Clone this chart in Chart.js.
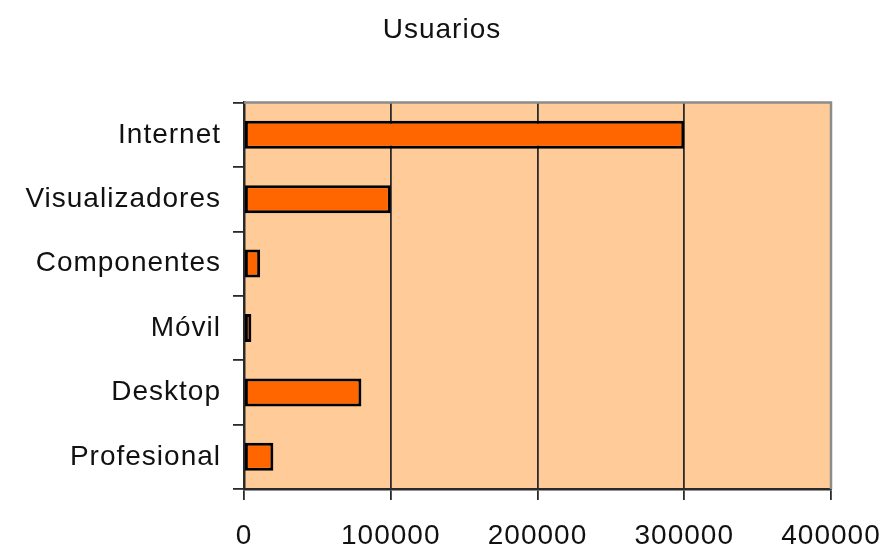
<!DOCTYPE html>
<html>
<head>
<meta charset="utf-8">
<script src="https://cdn.jsdelivr.net/npm/chart.js@4"></script>
<style>
  body { margin: 0; background: #fff; }
</style>
</head>
<body>
<canvas id="usuariosChart" width="884" height="548"></canvas>
<script>
// Gráfico de barras horizontales — usuarios por área

const categorias = ["Internet", "Visualizadores", "Componentes", "Móvil", "Desktop", "Profesional"];
const usuarios = [300000, 100000, 11000, 5000, 80000, 20000];
const ticksX = [0, 100000, 200000, 300000, 400000];

const fuente = "'Liberation Sans', Arial, sans-serif";

// fondo del área de trazado + borde gris arriba y a la derecha
const fondoArea = {
  id: "fondoArea",
  beforeLayout: chart => { chart.ctx.letterSpacing = "1px"; },
  beforeDraw: chart => {
    const { ctx, chartArea: a } = chart;
    ctx.letterSpacing = "1px";
    ctx.save();
    ctx.fillStyle = "#FFCC99";
    ctx.fillRect(a.left, a.top, a.right - a.left, a.bottom - a.top);
    ctx.restore();
  },
  afterDatasetsDraw: chart => {
    const { ctx, chartArea: a } = chart;
    ctx.save();
    ctx.strokeStyle = "#8c8c8c";
    ctx.lineWidth = 2.5;
    ctx.beginPath();
    ctx.moveTo(a.left, a.top);
    ctx.lineTo(a.right, a.top);
    ctx.lineTo(a.right, a.bottom);
    ctx.stroke();
    ctx.restore();
  }
};

const ctx = document.getElementById("usuariosChart").getContext("2d");

new Chart(ctx, {
  type: "bar",
  data: {
    labels: categorias,
    datasets: [{
      label: "Usuarios",
      data: usuarios,
      backgroundColor: "#FF6600",
      borderColor: "#000",
      borderWidth: 3,
      borderSkipped: false,
      barPercentage: 0.435,
      categoryPercentage: 1
    }]
  },
  options: {
    indexAxis: "y",
    responsive: false,
    animation: false,
    layout: { padding: 0 },
    scales: {
      x: {
        min: 0,
        max: 400000,
        afterBuildTicks: scale => { scale.ticks = ticksX.map(v => ({ value: v })); },
        afterFit: scale => {
          scale.height = 59;
          scale.paddingRight = 53; // el área termina en x≈831
        },
        ticks: {
          color: "#111",
          padding: 19,
          maxRotation: 0,
          font: { family: fuente, size: 28 },
          callback: v => String(v)
        },
        grid: {
          color: c => (c.tick && (c.tick.value === 0 || c.tick.value === 400000)) ? "rgba(0,0,0,0)" : "#2a2a2a",
          tickColor: "#2a2a2a",
          lineWidth: 1.8,
          tickLength: 11
        },
        border: { color: "#2a2a2a", width: 2.5 }
      },
      y: {
        afterFit: scale => { scale.width = 244; },
        ticks: {
          color: "#111",
          padding: 12,
          font: { family: fuente, size: 28 }
        },
        grid: {
          offset: true,
          drawOnChartArea: false,
          color: "#2a2a2a",
          lineWidth: 1.8,
          tickLength: 11
        },
        border: { color: "#2a2a2a", width: 2.5 }
      }
    },
    plugins: {
      legend: { display: false },
      tooltip: { enabled: false },
      title: {
        display: true,
        text: "Usuarios",
        color: "#111",
        font: { family: fuente, size: 28, weight: "normal" },
        padding: { top: 13, bottom: 56 }
      }
    }
  },
  plugins: [fondoArea]
});
</script>
</body>
</html>
